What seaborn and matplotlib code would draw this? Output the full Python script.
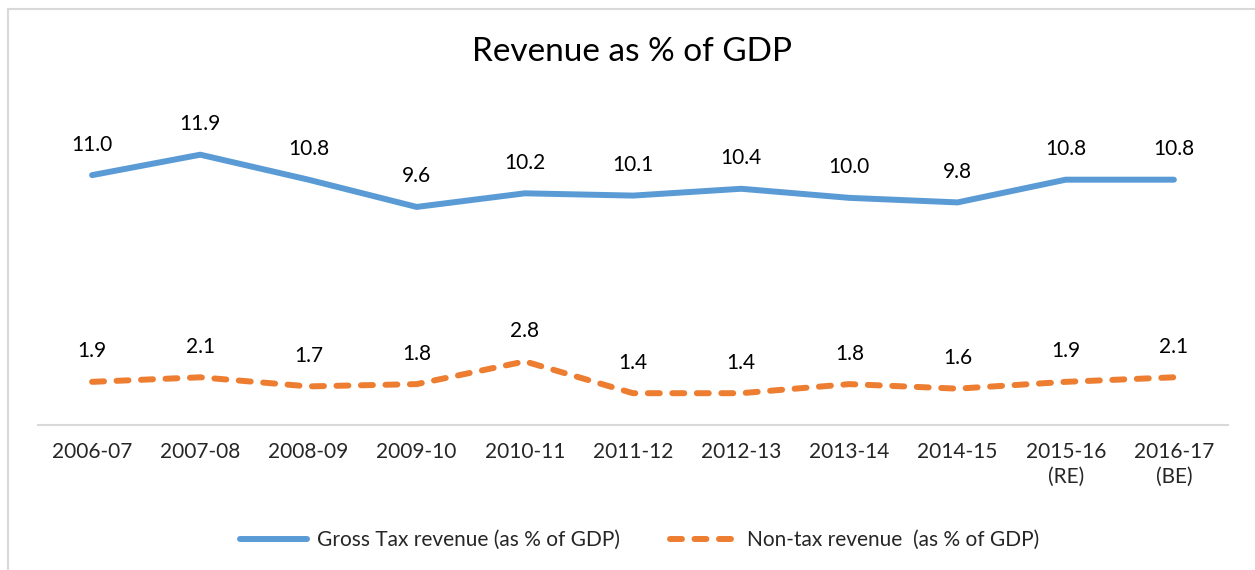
import pandas as pd
import matplotlib.pyplot as plt
import seaborn as sns
from matplotlib.patches import Rectangle

# values
years = ["2006-07", "2007-08", "2008-09", "2009-10", "2010-11", "2011-12",
         "2012-13", "2013-14", "2014-15", "2015-16\n(RE)", "2016-17\n(BE)"]
gross_tax = [11.0, 11.9, 10.8, 9.6, 10.2, 10.1, 10.4, 10.0, 9.8, 10.8, 10.8]
non_tax = [1.9, 2.1, 1.7, 1.8, 2.8, 1.4, 1.4, 1.8, 1.6, 1.9, 2.1]

gross_name = "Gross Tax revenue (as % of GDP)"
non_name = "Non-tax revenue  (as % of GDP)"

sns.set_style("white")
plt.rcParams["font.family"] = ["Lato", "DejaVu Sans"]

df = pd.DataFrame({"year": years, "gross": gross_tax, "non": non_tax})
df["pos"] = range(len(df))

fig = plt.figure(figsize=(12.55, 5.7), dpi=100)
ax = fig.add_axes([38 / 1255, 145 / 570, 1190 / 1255, 318 / 570])

sns.lineplot(data=df, x="pos", y="gross", ax=ax, color="#5B9BD5", lw=4.3,
             solid_capstyle="round", label=gross_name)
sns.lineplot(data=df, x="pos", y="non", ax=ax, color="#ED7D31", lw=4.3,
             dashes=False, label=non_name)
ax.lines[1].set_dashes((2.0, 2.1))
ax.lines[1].set_dash_capstyle("round")

for col in ["gross", "non"]:
    for p, v in zip(df["pos"], df[col]):
        ax.annotate(f"{v:.1f}", (p, v), xytext=(0, 22), textcoords="offset points",
                    ha="center", va="center", fontsize=15, color="#000000")

ax.set_xlim(-0.5, len(years) - 0.5)
ax.set_ylim(0, 14)
ax.set_xticks(df["pos"])
ax.set_xticklabels(years, fontsize=15, linespacing=1.3)
ax.tick_params(axis="x", length=0, pad=12)
ax.set_yticks([])
ax.set_xlabel("")
ax.set_ylabel("")
for s in ["top", "right", "left"]:
    ax.spines[s].set_visible(False)
ax.spines["bottom"].set_color("#d9d9d9")
ax.spines["bottom"].set_linewidth(1.5)

fig.text(632 / 1255, 1 - 52 / 570, "Revenue as % of GDP", ha="center", va="center",
         fontsize=24, color="#000000")

ax.get_legend().remove()
handles, labels = ax.get_legend_handles_labels()
fig.legend(handles, labels, loc="center", bbox_to_anchor=(640 / 1255, 1 - 540 / 570),
           ncol=2, frameon=False, fontsize=15, handlelength=3.2, columnspacing=2.4,
           handletextpad=0.5)

# chart frame (only top and left edges are visible in the crop)
fig.patches.append(Rectangle((8 / 1255, -0.2), 1.2, 1.2 - 9 / 570,
                             transform=fig.transFigure, fill=False,
                             edgecolor="#d9d9d9", lw=1.5, clip_on=False))

fig.savefig("out.png", dpi=100)
